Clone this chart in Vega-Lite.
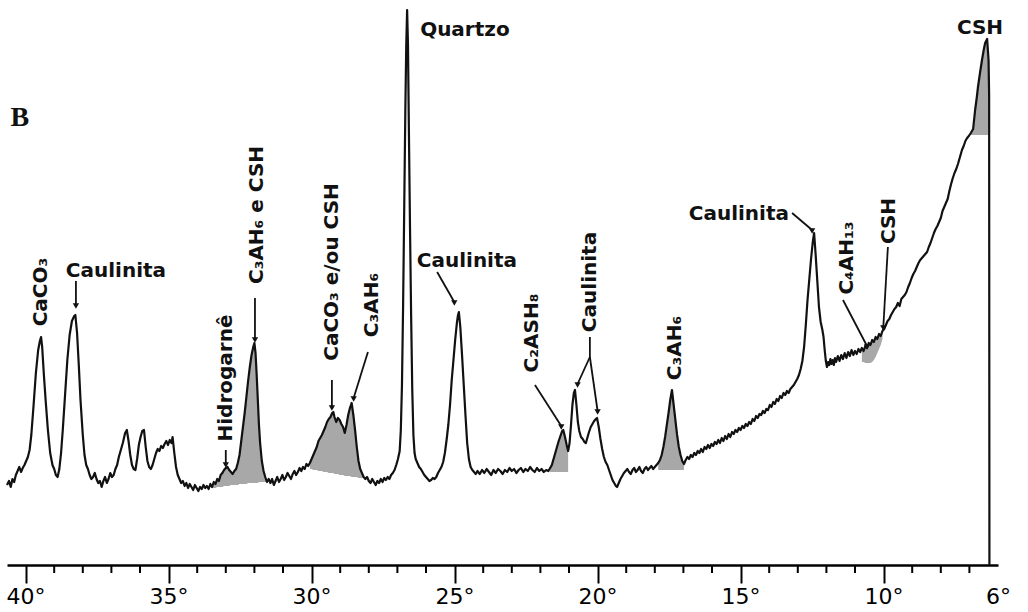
{
  "$schema": "https://vega.github.io/schema/vega-lite/v6.json",
  "width": 991,
  "height": 560,
  "autosize": {"type": "none"},
  "padding": {"left": 7, "top": 5, "right": 30, "bottom": 47},
  "background": "white",
  "config": {"view": {"stroke": null}},
  "datasets": {
    "trace": [
      {"t":40.65,"i":80},{"t":40.58,"i":84},{"t":40.52,"i":78},{"t":40.46,"i":86},{"t":40.4,"i":83},{"t":40.34,"i":90},{"t":40.28,"i":94},{"t":40.22,"i":98},{"t":40.16,"i":93},{"t":40.1,"i":97},{"t":40.04,"i":100},{"t":39.98,"i":104},{"t":39.92,"i":108},{"t":39.86,"i":115},{"t":39.8,"i":130},{"t":39.72,"i":160},{"t":39.64,"i":192},{"t":39.56,"i":215},{"t":39.5,"i":224},{"t":39.46,"i":228},{"t":39.42,"i":218},{"t":39.36,"i":190},{"t":39.3,"i":165},{"t":39.22,"i":135},{"t":39.14,"i":112},{"t":39.06,"i":100},{"t":39.0,"i":96},{"t":38.94,"i":90},{"t":38.88,"i":88},{"t":38.82,"i":96},{"t":38.76,"i":112},{"t":38.7,"i":135},{"t":38.62,"i":170},{"t":38.54,"i":205},{"t":38.46,"i":230},{"t":38.38,"i":244},{"t":38.3,"i":249},{"t":38.26,"i":250},{"t":38.2,"i":232},{"t":38.14,"i":200},{"t":38.08,"i":165},{"t":38.0,"i":130},{"t":37.94,"i":110},{"t":37.88,"i":100},{"t":37.82,"i":96},{"t":37.76,"i":90},{"t":37.7,"i":86},{"t":37.64,"i":88},{"t":37.58,"i":92},{"t":37.52,"i":86},{"t":37.46,"i":82},{"t":37.4,"i":84},{"t":37.34,"i":78},{"t":37.28,"i":84},{"t":37.22,"i":88},{"t":37.16,"i":82},{"t":37.1,"i":86},{"t":37.04,"i":92},{"t":36.98,"i":88},{"t":36.92,"i":90},{"t":36.86,"i":96},{"t":36.8,"i":100},{"t":36.74,"i":108},{"t":36.68,"i":114},{"t":36.6,"i":122},{"t":36.52,"i":132},{"t":36.46,"i":135},{"t":36.4,"i":124},{"t":36.34,"i":110},{"t":36.28,"i":100},{"t":36.22,"i":96},{"t":36.16,"i":95},{"t":36.1,"i":106},{"t":36.04,"i":120},{"t":35.98,"i":128},{"t":35.92,"i":134},{"t":35.86,"i":135},{"t":35.8,"i":118},{"t":35.74,"i":104},{"t":35.68,"i":98},{"t":35.62,"i":96},{"t":35.56,"i":100},{"t":35.5,"i":106},{"t":35.44,"i":112},{"t":35.38,"i":116},{"t":35.32,"i":114},{"t":35.26,"i":119},{"t":35.2,"i":117},{"t":35.14,"i":121},{"t":35.08,"i":124},{"t":35.02,"i":120},{"t":34.96,"i":125},{"t":34.9,"i":122},{"t":34.86,"i":128},{"t":34.8,"i":112},{"t":34.74,"i":98},{"t":34.68,"i":90},{"t":34.62,"i":86},{"t":34.56,"i":82},{"t":34.5,"i":84},{"t":34.44,"i":79},{"t":34.38,"i":82},{"t":34.32,"i":77},{"t":34.26,"i":81},{"t":34.2,"i":78},{"t":34.14,"i":75},{"t":34.08,"i":80},{"t":34.02,"i":77},{"t":33.96,"i":74},{"t":33.9,"i":78},{"t":33.84,"i":76},{"t":33.78,"i":80},{"t":33.72,"i":77},{"t":33.66,"i":79},{"t":33.6,"i":76},{"t":33.54,"i":81},{"t":33.48,"i":78},{"t":33.42,"i":83},{"t":33.36,"i":81},{"t":33.3,"i":86},{"t":33.24,"i":84},{"t":33.18,"i":90},{"t":33.12,"i":92},{"t":33.06,"i":95},{"t":33.0,"i":97},{"t":32.94,"i":98},{"t":32.88,"i":95},{"t":32.82,"i":93},{"t":32.76,"i":91},{"t":32.7,"i":94},{"t":32.64,"i":96},{"t":32.58,"i":102},{"t":32.52,"i":110},{"t":32.46,"i":124},{"t":32.4,"i":138},{"t":32.34,"i":152},{"t":32.28,"i":168},{"t":32.22,"i":184},{"t":32.16,"i":198},{"t":32.1,"i":210},{"t":32.04,"i":218},{"t":32.0,"i":222},{"t":31.96,"i":212},{"t":31.92,"i":190},{"t":31.88,"i":165},{"t":31.84,"i":140},{"t":31.8,"i":122},{"t":31.74,"i":104},{"t":31.68,"i":94},{"t":31.62,"i":88},{"t":31.56,"i":83},{"t":31.5,"i":86},{"t":31.44,"i":82},{"t":31.38,"i":86},{"t":31.32,"i":80},{"t":31.26,"i":84},{"t":31.2,"i":88},{"t":31.14,"i":83},{"t":31.08,"i":86},{"t":31.02,"i":90},{"t":30.96,"i":85},{"t":30.9,"i":88},{"t":30.84,"i":92},{"t":30.78,"i":89},{"t":30.72,"i":86},{"t":30.66,"i":91},{"t":30.6,"i":94},{"t":30.54,"i":90},{"t":30.48,"i":93},{"t":30.42,"i":97},{"t":30.36,"i":94},{"t":30.3,"i":98},{"t":30.24,"i":96},{"t":30.18,"i":101},{"t":30.12,"i":99},{"t":30.06,"i":102},{"t":30.0,"i":106},{"t":29.94,"i":110},{"t":29.88,"i":114},{"t":29.82,"i":118},{"t":29.76,"i":124},{"t":29.7,"i":127},{"t":29.64,"i":130},{"t":29.58,"i":134},{"t":29.52,"i":138},{"t":29.46,"i":143},{"t":29.4,"i":146},{"t":29.34,"i":148},{"t":29.28,"i":152},{"t":29.24,"i":153},{"t":29.2,"i":148},{"t":29.14,"i":143},{"t":29.08,"i":147},{"t":29.02,"i":145},{"t":28.96,"i":141},{"t":28.9,"i":138},{"t":28.84,"i":132},{"t":28.78,"i":140},{"t":28.72,"i":150},{"t":28.66,"i":157},{"t":28.6,"i":162},{"t":28.54,"i":150},{"t":28.48,"i":135},{"t":28.42,"i":118},{"t":28.36,"i":104},{"t":28.3,"i":96},{"t":28.24,"i":92},{"t":28.18,"i":88},{"t":28.12,"i":86},{"t":28.06,"i":88},{"t":28.0,"i":84},{"t":27.94,"i":82},{"t":27.88,"i":86},{"t":27.82,"i":83},{"t":27.76,"i":80},{"t":27.7,"i":84},{"t":27.64,"i":82},{"t":27.58,"i":86},{"t":27.52,"i":83},{"t":27.46,"i":87},{"t":27.4,"i":85},{"t":27.34,"i":88},{"t":27.28,"i":86},{"t":27.22,"i":90},{"t":27.16,"i":92},{"t":27.1,"i":95},{"t":27.04,"i":100},{"t":26.98,"i":106},{"t":26.92,"i":114},{"t":26.88,"i":135},{"t":26.84,"i":180},{"t":26.8,"i":260},{"t":26.76,"i":360},{"t":26.72,"i":460},{"t":26.69,"i":520},{"t":26.66,"i":555},{"t":26.63,"i":520},{"t":26.6,"i":440},{"t":26.56,"i":340},{"t":26.52,"i":250},{"t":26.48,"i":175},{"t":26.44,"i":130},{"t":26.4,"i":112},{"t":26.36,"i":106},{"t":26.3,"i":102},{"t":26.24,"i":98},{"t":26.18,"i":96},{"t":26.12,"i":93},{"t":26.06,"i":90},{"t":26.0,"i":88},{"t":25.94,"i":86},{"t":25.88,"i":84},{"t":25.82,"i":85},{"t":25.76,"i":87},{"t":25.7,"i":86},{"t":25.64,"i":88},{"t":25.58,"i":92},{"t":25.52,"i":95},{"t":25.46,"i":98},{"t":25.4,"i":103},{"t":25.34,"i":112},{"t":25.28,"i":125},{"t":25.22,"i":140},{"t":25.16,"i":160},{"t":25.1,"i":185},{"t":25.04,"i":205},{"t":24.98,"i":225},{"t":24.92,"i":242},{"t":24.88,"i":250},{"t":24.85,"i":253},{"t":24.8,"i":238},{"t":24.74,"i":210},{"t":24.68,"i":180},{"t":24.62,"i":150},{"t":24.56,"i":122},{"t":24.5,"i":106},{"t":24.44,"i":98},{"t":24.38,"i":95},{"t":24.32,"i":93},{"t":24.26,"i":91},{"t":24.2,"i":94},{"t":24.12,"i":91},{"t":24.04,"i":95},{"t":23.96,"i":92},{"t":23.88,"i":96},{"t":23.8,"i":93},{"t":23.72,"i":90},{"t":23.64,"i":95},{"t":23.56,"i":92},{"t":23.48,"i":96},{"t":23.4,"i":94},{"t":23.32,"i":91},{"t":23.24,"i":95},{"t":23.16,"i":93},{"t":23.08,"i":97},{"t":23.0,"i":94},{"t":22.92,"i":96},{"t":22.84,"i":92},{"t":22.76,"i":95},{"t":22.68,"i":97},{"t":22.6,"i":93},{"t":22.52,"i":96},{"t":22.44,"i":94},{"t":22.36,"i":98},{"t":22.28,"i":95},{"t":22.2,"i":93},{"t":22.12,"i":97},{"t":22.04,"i":94},{"t":21.96,"i":96},{"t":21.88,"i":93},{"t":21.8,"i":95},{"t":21.72,"i":94},{"t":21.66,"i":97},{"t":21.6,"i":100},{"t":21.54,"i":106},{"t":21.48,"i":112},{"t":21.42,"i":118},{"t":21.36,"i":124},{"t":21.3,"i":129},{"t":21.24,"i":134},{"t":21.2,"i":135},{"t":21.14,"i":128},{"t":21.08,"i":120},{"t":21.03,"i":114},{"t":20.98,"i":122},{"t":20.93,"i":140},{"t":20.88,"i":160},{"t":20.83,"i":172},{"t":20.79,"i":175},{"t":20.74,"i":160},{"t":20.69,"i":143},{"t":20.64,"i":134},{"t":20.58,"i":128},{"t":20.52,"i":126},{"t":20.46,"i":123},{"t":20.41,"i":122},{"t":20.36,"i":127},{"t":20.3,"i":133},{"t":20.24,"i":138},{"t":20.18,"i":141},{"t":20.12,"i":144},{"t":20.06,"i":146},{"t":20.02,"i":147},{"t":19.96,"i":138},{"t":19.9,"i":126},{"t":19.84,"i":116},{"t":19.78,"i":108},{"t":19.72,"i":103},{"t":19.66,"i":100},{"t":19.6,"i":95},{"t":19.54,"i":90},{"t":19.48,"i":85},{"t":19.42,"i":82},{"t":19.36,"i":79},{"t":19.32,"i":78},{"t":19.26,"i":82},{"t":19.2,"i":86},{"t":19.14,"i":89},{"t":19.08,"i":92},{"t":19.02,"i":94},{"t":18.96,"i":96},{"t":18.9,"i":93},{"t":18.84,"i":91},{"t":18.78,"i":95},{"t":18.72,"i":97},{"t":18.66,"i":93},{"t":18.6,"i":95},{"t":18.54,"i":98},{"t":18.48,"i":94},{"t":18.42,"i":92},{"t":18.36,"i":96},{"t":18.3,"i":98},{"t":18.24,"i":95},{"t":18.18,"i":97},{"t":18.12,"i":99},{"t":18.06,"i":96},{"t":18.0,"i":98},{"t":17.94,"i":100},{"t":17.88,"i":102},{"t":17.82,"i":105},{"t":17.76,"i":110},{"t":17.7,"i":118},{"t":17.64,"i":128},{"t":17.58,"i":140},{"t":17.52,"i":152},{"t":17.46,"i":165},{"t":17.4,"i":175},{"t":17.34,"i":160},{"t":17.28,"i":145},{"t":17.22,"i":130},{"t":17.16,"i":118},{"t":17.1,"i":110},{"t":17.04,"i":104},{"t":16.98,"i":101},{"t":16.92,"i":105},{"t":16.86,"i":108},{"t":16.8,"i":106},{"t":16.74,"i":110},{"t":16.68,"i":108},{"t":16.62,"i":112},{"t":16.56,"i":110},{"t":16.5,"i":114},{"t":16.44,"i":112},{"t":16.38,"i":116},{"t":16.32,"i":113},{"t":16.26,"i":118},{"t":16.2,"i":116},{"t":16.14,"i":120},{"t":16.08,"i":117},{"t":16.02,"i":121},{"t":15.96,"i":119},{"t":15.9,"i":123},{"t":15.84,"i":121},{"t":15.78,"i":125},{"t":15.72,"i":122},{"t":15.66,"i":127},{"t":15.6,"i":124},{"t":15.54,"i":129},{"t":15.48,"i":126},{"t":15.42,"i":131},{"t":15.36,"i":128},{"t":15.3,"i":133},{"t":15.24,"i":131},{"t":15.18,"i":135},{"t":15.12,"i":133},{"t":15.06,"i":137},{"t":15.0,"i":135},{"t":14.94,"i":139},{"t":14.88,"i":137},{"t":14.82,"i":141},{"t":14.76,"i":139},{"t":14.7,"i":143},{"t":14.64,"i":141},{"t":14.58,"i":146},{"t":14.52,"i":144},{"t":14.46,"i":149},{"t":14.4,"i":147},{"t":14.34,"i":151},{"t":14.28,"i":150},{"t":14.22,"i":154},{"t":14.16,"i":152},{"t":14.1,"i":156},{"t":14.04,"i":155},{"t":13.98,"i":160},{"t":13.92,"i":158},{"t":13.86,"i":163},{"t":13.8,"i":161},{"t":13.74,"i":166},{"t":13.68,"i":164},{"t":13.62,"i":169},{"t":13.56,"i":167},{"t":13.5,"i":172},{"t":13.44,"i":170},{"t":13.38,"i":174},{"t":13.32,"i":172},{"t":13.26,"i":176},{"t":13.2,"i":178},{"t":13.14,"i":180},{"t":13.08,"i":183},{"t":13.02,"i":186},{"t":12.96,"i":190},{"t":12.9,"i":196},{"t":12.84,"i":204},{"t":12.78,"i":218},{"t":12.72,"i":240},{"t":12.66,"i":265},{"t":12.6,"i":285},{"t":12.54,"i":305},{"t":12.48,"i":322},{"t":12.43,"i":332},{"t":12.38,"i":312},{"t":12.32,"i":285},{"t":12.26,"i":258},{"t":12.2,"i":243},{"t":12.14,"i":235},{"t":12.1,"i":228},{"t":12.06,"i":215},{"t":12.02,"i":204},{"t":11.98,"i":198},{"t":11.94,"i":203},{"t":11.9,"i":200},{"t":11.86,"i":206},{"t":11.82,"i":201},{"t":11.78,"i":205},{"t":11.74,"i":200},{"t":11.7,"i":207},{"t":11.66,"i":203},{"t":11.6,"i":209},{"t":11.54,"i":204},{"t":11.48,"i":210},{"t":11.42,"i":206},{"t":11.36,"i":212},{"t":11.3,"i":207},{"t":11.24,"i":213},{"t":11.18,"i":209},{"t":11.12,"i":215},{"t":11.06,"i":210},{"t":11.0,"i":214},{"t":10.94,"i":211},{"t":10.88,"i":216},{"t":10.82,"i":213},{"t":10.76,"i":217},{"t":10.7,"i":214},{"t":10.64,"i":219},{"t":10.58,"i":217},{"t":10.52,"i":222},{"t":10.46,"i":220},{"t":10.4,"i":225},{"t":10.34,"i":223},{"t":10.28,"i":228},{"t":10.22,"i":226},{"t":10.16,"i":231},{"t":10.1,"i":229},{"t":10.04,"i":234},{"t":9.98,"i":236},{"t":9.92,"i":240},{"t":9.86,"i":244},{"t":9.8,"i":246},{"t":9.74,"i":250},{"t":9.68,"i":253},{"t":9.62,"i":256},{"t":9.56,"i":258},{"t":9.5,"i":262},{"t":9.44,"i":259},{"t":9.38,"i":266},{"t":9.32,"i":268},{"t":9.26,"i":270},{"t":9.2,"i":273},{"t":9.14,"i":278},{"t":9.08,"i":282},{"t":9.02,"i":287},{"t":8.96,"i":291},{"t":8.9,"i":294},{"t":8.84,"i":298},{"t":8.78,"i":302},{"t":8.72,"i":305},{"t":8.66,"i":307},{"t":8.6,"i":309},{"t":8.54,"i":311},{"t":8.48,"i":313},{"t":8.42,"i":318},{"t":8.36,"i":322},{"t":8.3,"i":327},{"t":8.24,"i":332},{"t":8.18,"i":336},{"t":8.12,"i":339},{"t":8.06,"i":343},{"t":8.0,"i":347},{"t":7.94,"i":354},{"t":7.88,"i":358},{"t":7.82,"i":362},{"t":7.76,"i":366},{"t":7.7,"i":374},{"t":7.64,"i":381},{"t":7.58,"i":387},{"t":7.52,"i":392},{"t":7.46,"i":396},{"t":7.4,"i":401},{"t":7.33,"i":408},{"t":7.26,"i":415},{"t":7.2,"i":419},{"t":7.14,"i":424},{"t":7.08,"i":427},{"t":7.02,"i":429},{"t":6.95,"i":432},{"t":6.87,"i":436},{"t":6.8,"i":455},{"t":6.74,"i":468},{"t":6.7,"i":478},{"t":6.63,"i":492},{"t":6.56,"i":505},{"t":6.5,"i":515},{"t":6.45,"i":522},{"t":6.38,"i":526},{"t":6.33,"i":505},{"t":6.31,"i":470},{"t":6.3,"i":0}
    ],
    "hatch": [
      {"g":1,"t":33.48,"i":78,"b":77},{"g":1,"t":33.42,"i":83,"b":77},{"g":1,"t":33.36,"i":81,"b":77},{"g":1,"t":33.3,"i":86,"b":78},{"g":1,"t":33.24,"i":84,"b":78},{"g":1,"t":33.18,"i":90,"b":78},{"g":1,"t":33.12,"i":92,"b":78},{"g":1,"t":33.06,"i":95,"b":79},{"g":1,"t":33.0,"i":97,"b":79},{"g":1,"t":32.94,"i":98,"b":79},{"g":1,"t":32.88,"i":95,"b":79},{"g":1,"t":32.82,"i":93,"b":80},{"g":1,"t":32.76,"i":91,"b":80},{"g":1,"t":32.7,"i":94,"b":80},{"g":1,"t":32.64,"i":96,"b":80},{"g":1,"t":32.58,"i":102,"b":80},{"g":1,"t":32.52,"i":110,"b":81},{"g":1,"t":32.46,"i":124,"b":81},{"g":1,"t":32.4,"i":138,"b":81},{"g":1,"t":32.34,"i":152,"b":81},{"g":1,"t":32.28,"i":168,"b":81},{"g":1,"t":32.22,"i":184,"b":82},{"g":1,"t":32.16,"i":198,"b":82},{"g":1,"t":32.1,"i":210,"b":82},{"g":1,"t":32.04,"i":218,"b":82},{"g":1,"t":32.0,"i":222,"b":82},{"g":1,"t":31.96,"i":212,"b":82},{"g":1,"t":31.92,"i":190,"b":82},{"g":1,"t":31.88,"i":165,"b":82},{"g":1,"t":31.84,"i":140,"b":83},{"g":1,"t":31.8,"i":122,"b":83},{"g":1,"t":31.74,"i":104,"b":83},{"g":1,"t":31.68,"i":94,"b":83},{"g":1,"t":31.62,"i":88,"b":83},{"g":1,"t":31.56,"i":83,"b":83},
      {"g":2,"t":30.06,"i":102,"b":96},{"g":2,"t":30.0,"i":106,"b":96},{"g":2,"t":29.94,"i":110,"b":95},{"g":2,"t":29.88,"i":114,"b":95},{"g":2,"t":29.82,"i":118,"b":95},{"g":2,"t":29.76,"i":124,"b":94},{"g":2,"t":29.7,"i":127,"b":94},{"g":2,"t":29.64,"i":130,"b":94},{"g":2,"t":29.58,"i":134,"b":93},{"g":2,"t":29.52,"i":138,"b":93},{"g":2,"t":29.46,"i":143,"b":93},{"g":2,"t":29.4,"i":146,"b":92},{"g":2,"t":29.34,"i":148,"b":92},{"g":2,"t":29.28,"i":152,"b":92},{"g":2,"t":29.24,"i":153,"b":92},{"g":2,"t":29.2,"i":148,"b":91},{"g":2,"t":29.14,"i":143,"b":91},{"g":2,"t":29.08,"i":147,"b":91},{"g":2,"t":29.02,"i":145,"b":90},{"g":2,"t":28.96,"i":141,"b":90},{"g":2,"t":28.9,"i":138,"b":90},{"g":2,"t":28.84,"i":132,"b":89},{"g":2,"t":28.78,"i":140,"b":89},{"g":2,"t":28.72,"i":150,"b":89},{"g":2,"t":28.66,"i":157,"b":89},{"g":2,"t":28.6,"i":162,"b":88},{"g":2,"t":28.54,"i":150,"b":88},{"g":2,"t":28.48,"i":135,"b":88},{"g":2,"t":28.42,"i":118,"b":88},{"g":2,"t":28.36,"i":104,"b":87},{"g":2,"t":28.3,"i":96,"b":87},{"g":2,"t":28.24,"i":92,"b":87},{"g":2,"t":28.18,"i":88,"b":87},
      {"g":3,"t":21.66,"i":97,"b":93},{"g":3,"t":21.6,"i":100,"b":93},{"g":3,"t":21.54,"i":106,"b":93},{"g":3,"t":21.48,"i":112,"b":93},{"g":3,"t":21.42,"i":118,"b":93},{"g":3,"t":21.36,"i":124,"b":93},{"g":3,"t":21.3,"i":129,"b":93},{"g":3,"t":21.24,"i":134,"b":93},{"g":3,"t":21.2,"i":135,"b":93},{"g":3,"t":21.14,"i":128,"b":93},{"g":3,"t":21.08,"i":120,"b":93},{"g":3,"t":21.03,"i":114,"b":93},
      {"g":4,"t":17.88,"i":102,"b":95},{"g":4,"t":17.82,"i":105,"b":95},{"g":4,"t":17.76,"i":110,"b":95},{"g":4,"t":17.7,"i":118,"b":95},{"g":4,"t":17.64,"i":128,"b":95},{"g":4,"t":17.58,"i":140,"b":95},{"g":4,"t":17.52,"i":152,"b":95},{"g":4,"t":17.46,"i":165,"b":95},{"g":4,"t":17.4,"i":175,"b":95},{"g":4,"t":17.34,"i":160,"b":95},{"g":4,"t":17.28,"i":145,"b":95},{"g":4,"t":17.22,"i":130,"b":95},{"g":4,"t":17.16,"i":118,"b":95},{"g":4,"t":17.1,"i":110,"b":95},{"g":4,"t":17.04,"i":104,"b":95},{"g":4,"t":16.98,"i":101,"b":95},
      {"g":5,"t":10.76,"i":217,"b":203},{"g":5,"t":10.7,"i":214,"b":203},{"g":5,"t":10.64,"i":219,"b":202},{"g":5,"t":10.58,"i":217,"b":202},{"g":5,"t":10.52,"i":222,"b":202},{"g":5,"t":10.46,"i":220,"b":202},{"g":5,"t":10.4,"i":225,"b":203},{"g":5,"t":10.34,"i":223,"b":205},{"g":5,"t":10.28,"i":228,"b":208},{"g":5,"t":10.22,"i":226,"b":212},{"g":5,"t":10.16,"i":231,"b":216},{"g":5,"t":10.1,"i":229,"b":220},{"g":5,"t":10.04,"i":234,"b":226},
      {"g":6,"t":6.95,"i":432,"b":430},{"g":6,"t":6.87,"i":436,"b":430},{"g":6,"t":6.8,"i":455,"b":430},{"g":6,"t":6.74,"i":468,"b":430},{"g":6,"t":6.7,"i":478,"b":430},{"g":6,"t":6.63,"i":492,"b":430},{"g":6,"t":6.56,"i":505,"b":430},{"g":6,"t":6.5,"i":515,"b":430},{"g":6,"t":6.45,"i":522,"b":430},{"g":6,"t":6.38,"i":526,"b":430},{"g":6,"t":6.33,"i":505,"b":430},{"g":6,"t":6.305,"i":470,"b":430}
    ],
    "arrows": [
      {"k":"a1","t":38.24,"i":284,"t2":38.24,"i2":260},
      {"k":"a2","t":33.0,"i":115,"t2":33.0,"i2":101},
      {"k":"a3","t":31.98,"i":267,"t2":31.98,"i2":226},
      {"k":"a4","t":29.29,"i":185,"t2":29.29,"i2":158},
      {"k":"a5","t":28.03,"i":213,"t2":28.53,"i2":167},
      {"k":"a6","t":25.61,"i":293,"t2":25.01,"i2":263},
      {"k":"a7","t":22.19,"i":180,"t2":21.27,"i2":139},
      {"k":"stem","t":20.27,"i":228,"t2":20.27,"i2":208},
      {"k":"a9","t":20.27,"i":208,"t2":20.7,"i2":181},
      {"k":"a10","t":20.27,"i":208,"t2":20.0,"i2":154},
      {"k":"a11","t":13.2,"i":352,"t2":12.5,"i2":335},
      {"k":"a12","t":11.42,"i":265,"t2":10.58,"i2":219},
      {"k":"a13","t":9.85,"i":318,"t2":10.01,"i2":238}
    ],
    "minor": [
      {"t":7},{"t":8},{"t":9},{"t":11},{"t":12},{"t":13},{"t":14},{"t":16},{"t":17},{"t":18},{"t":19},{"t":21},{"t":22},{"t":23},{"t":24},{"t":26},{"t":27},{"t":28},{"t":29},{"t":31},{"t":32},{"t":33},{"t":34},{"t":36},{"t":37},{"t":38},{"t":39}
    ],
    "labelsH": [
      {"t":36.84,"i":294,"txt":"Caulinita"},
      {"t":24.64,"i":535,"txt":"Quartzo"},
      {"t":24.57,"i":304,"txt":"Caulinita"},
      {"t":15.06,"i":351,"txt":"Caulinita"},
      {"t":6.63,"i":537,"txt":"CSH"}
    ],
    "labelsV": [
      {"t":39.46,"i":273,"txt":"CaCO₃"},
      {"t":32.99,"i":187,"txt":"Hidrogarnê"},
      {"t":31.91,"i":350,"txt":"C₃AH₆  e  CSH"},
      {"t":29.29,"i":293,"txt":"CaCO₃  e/ou  CSH"},
      {"t":27.89,"i":260,"txt":"C₃AH₆"},
      {"t":22.29,"i":232,"txt":"C₂ASH₈"},
      {"t":20.27,"i":283,"txt":"Caulinita"},
      {"t":17.29,"i":217,"txt":"C₃AH₆"},
      {"t":11.28,"i":307,"txt":"C₄AH₁₃"},
      {"t":9.81,"i":344,"txt":"CSH"}
    ],
    "panel": [
      {"t":40.2,"i":447,"txt":"B"}
    ]
  },
  "layer": [
    {
      "encoding": {
        "x": {
          "field": "t",
          "type": "quantitative",
          "title": null,
          "scale": {"domain": [6, 40.65], "reverse": true, "nice": false, "zero": false},
          "axis": {
            "values": [40,35,30,25,20,15,10,6],
            "labelExpr": "datum.value + '°'",
            "tickSize": 18,
            "tickOpacity": {"condition": {"test": "datum.value === 6", "value": 0}, "value": 1},
            "tickWidth": 2,
            "tickColor": "black",
            "domainColor": "black",
            "domainWidth": 2.5,
            "labelFont": "DejaVu Sans",
            "labelFontSize": 22,
            "labelColor": "black",
            "labelPadding": 3,
            "labelOverlap": false,
            "labelBound": false,
            "labelFlush": false,
            "grid": false,
            "title": null
          }
        },
        "y": {
          "field": "i",
          "type": "quantitative",
          "title": null,
          "scale": {"domain": [0, 560], "nice": false, "zero": true},
          "axis": null
        }
      },
      "layer": [
        {
          "data": {"name": "hatch"},
          "mark": {"type": "area", "color": "#a8a8a8", "opacity": 1},
          "encoding": {"y2": {"field": "b"}, "detail": {"field": "g", "type": "nominal"}}
        },
        {
          "data": {"name": "trace"},
          "mark": {"type": "line", "color": "#111111", "strokeWidth": 2.2, "strokeJoin": "round"},
          "encoding": {}
        },
        {
          "data": {"name": "arrows"},
          "mark": {"type": "rule", "color": "#111111", "strokeWidth": 1.8},
          "encoding": {"x2": {"field": "t2"}, "y2": {"field": "i2"}}
        },
        {
          "data": {"name": "arrows"},
          "transform": [{"filter": "datum.k !== 'stem'"}],
          "mark": {"type": "point", "shape": "triangle", "filled": true, "color": "#111111", "size": 40, "opacity": 1},
          "encoding": {
            "x": {"field": "t2", "type": "quantitative"},
            "y": {"field": "i2", "type": "quantitative"},
            "angle": {"field": "k", "type": "nominal", "legend": null, "scale": {"domain": ["a1","a2","a3","a4","a5","a6","a7","a9","a10","a11","a12","a13"], "range": [180,180,180,180,196,151,149,205,171,132,153,183]}}
          }
        },
        {
          "data": {"name": "labelsH"},
          "mark": {"type": "text", "font": "DejaVu Sans", "fontWeight": "bold", "fontSize": 20, "color": "#111111", "align": "center", "baseline": "middle"},
          "encoding": {"text": {"field": "txt"}}
        },
        {
          "data": {"name": "labelsV"},
          "mark": {"type": "text", "font": "DejaVu Sans", "fontWeight": "bold", "fontSize": 20, "color": "#111111", "align": "center", "baseline": "middle", "angle": 270},
          "encoding": {"text": {"field": "txt"}}
        },
        {
          "data": {"name": "panel"},
          "mark": {"type": "text", "font": "Liberation Serif", "fontWeight": "bold", "fontSize": 28, "color": "#111111", "align": "center", "baseline": "middle"},
          "encoding": {"text": {"field": "txt"}}
        }
      ]
    },
    {
      "data": {"name": "minor"},
      "mark": {"type": "rule", "color": "black", "strokeWidth": 2},
      "encoding": {
        "x": {"field": "t", "type": "quantitative"},
        "y": {"datum": 0, "type": "quantitative"},
        "y2": {"datum": -8}
      }
    }
  ]
}
